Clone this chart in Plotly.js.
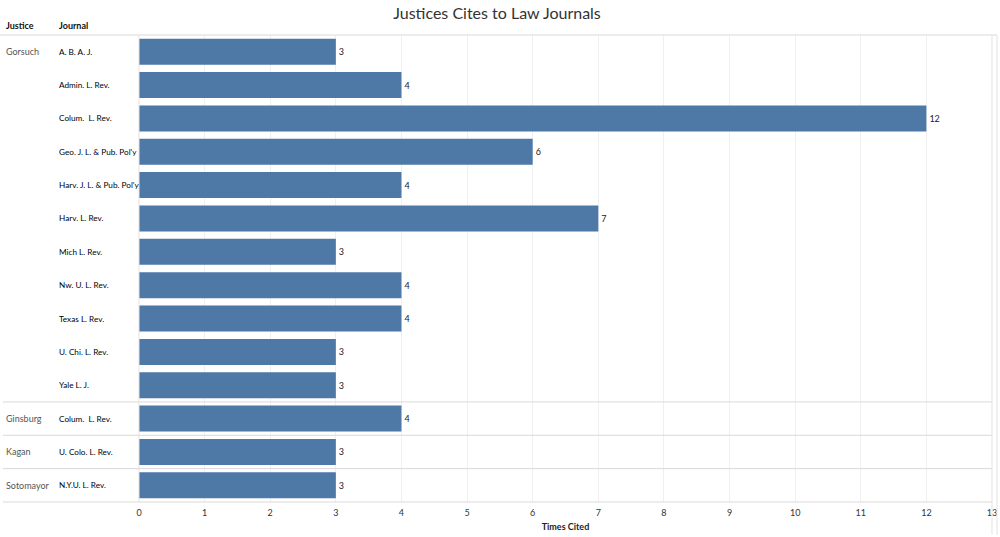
<!DOCTYPE html>
<html><head><meta charset="utf-8">
<script src="https://cdn.plot.ly/plotly-3.0.1.min.js"></script>
<style>html,body{margin:0;padding:0;background:#fff}#c{width:1000px;height:537px}</style>
</head><body><div id="c"></div>
<script>
var justices = ["Gorsuch","Gorsuch","Gorsuch","Gorsuch","Gorsuch","Gorsuch","Gorsuch","Gorsuch","Gorsuch","Gorsuch","Gorsuch","Ginsburg","Kagan","Sotomayor"];
var journals = ["A. B. A. J.","Admin. L. Rev.","Colum.  L. Rev.","Geo. J. L. & Pub. Pol'y","Harv. J. L. & Pub. Pol'y","Harv. L. Rev.","Mich L. Rev.","Nw. U. L. Rev.","Texas L. Rev.","U. Chi. L. Rev.","Yale L. J.","Colum.  L. Rev.","U. Colo. L. Rev.","N.Y.U. L. Rev."];
var cites = [3,4,12,6,4,7,3,4,4,3,3,4,3,3];
var xTicks = [0,1,2,3,4,5,6,7,8,9,10,11,12,13];

var L = 139, R = 992, T = 35, B = 502, W = 1000;
var rows = journals.map(function(_, i){ return i; });
var font = "Lato, 'Open Sans', sans-serif";

var ann = [];
var shapes = [];
function px(x){ return (x - L) / (R - L); }
ann.push({xref:'paper', yref:'paper', x:px(4), y:1, yshift:2, xanchor:'left', yanchor:'bottom', text:'<b>Justice</b>', showarrow:false, font:{family:font,size:9,color:'#111'}});
ann.push({xref:'paper', yref:'paper', x:px(57), y:1, yshift:2, xanchor:'left', yanchor:'bottom', text:'<b>Journal</b>', showarrow:false, font:{family:font,size:9,color:'#111'}});
for (var i = 0; i < rows.length; i++) {
  if (i === 0 || justices[i] !== justices[i-1]) {
    ann.push({xref:'paper', yref:'y', x:px(4), y:rows[i], xanchor:'left', yanchor:'middle', text:justices[i], showarrow:false, font:{family:font,size:9,color:'#555'}});
    if (i > 0) shapes.push({type:'line', xref:'paper', yref:'y', x0:px(3), x1:1, y0:rows[i]-0.5, y1:rows[i]-0.5, line:{color:'#d9d9d9', width:1}});
  }
  ann.push({xref:'paper', yref:'y', x:px(57), y:rows[i], xanchor:'left', yanchor:'middle', text:journals[i], showarrow:false, font:{family:font,size:8.2,color:'#000'}});
}
shapes.push({type:'line', xref:'paper', yref:'paper', x0:px(0), x1:px(997), y0:1, y1:1, line:{color:'#d9d9d9', width:1}});
shapes.push({type:'line', xref:'paper', yref:'paper', x0:px(3), x1:1, y0:0, y1:0, line:{color:'#d9d9d9', width:1}});
shapes.push({type:'line', xref:'paper', yref:'paper', x0:0, x1:0, y0:0, y1:1, line:{color:'#e3e3e3', width:1}});
shapes.push({type:'line', xref:'paper', yref:'paper', x0:1, x1:1, y0:-0.07, y1:1, line:{color:'#e3e3e3', width:1}});
shapes.push({type:'line', xref:'paper', yref:'paper', x0:px(997), x1:px(997), y0:-0.07, y1:1, line:{color:'#e3e3e3', width:1}});

var trace = {
  type:'bar', orientation:'h', x:cites, y:rows, width:0.78,
  marker:{color:'#4e79a7'},
  text:cites.map(String), textposition:'outside', cliponaxis:false,
  textfont:{family:font, size:9, color:'#222'},
  hoverinfo:'x'
};
var layout = {
  width:1000, height:537,
  margin:{l:L, r:W-R, t:T, b:537-B},
  paper_bgcolor:'#fff', plot_bgcolor:'#fff',
  title:{text:'Justices Cites to Law Journals', x:0.497, xanchor:'center', y:0.985, yanchor:'top', font:{family:font, size:16, color:'#333'}},
  xaxis:{range:[0,13], tickvals:xTicks, ticktext:xTicks.map(String), showgrid:true, gridcolor:'#f0f0f0', zeroline:false, showline:false, ticks:'', tickfont:{family:font,size:9,color:'#333'}, ticklabelstandoff:4,
         title:{text:'<b>Times Cited</b>', font:{family:font,size:9,color:'#222'}, standoff:6}},
  yaxis:{range:[13.5,-0.5], showticklabels:false, showgrid:false, zeroline:false, ticks:''},
  annotations:ann, shapes:shapes, showlegend:false, bargap:0.2
};
Plotly.newPlot('c', [trace], layout, {displayModeBar:false, staticPlot:true});
</script></body></html>
